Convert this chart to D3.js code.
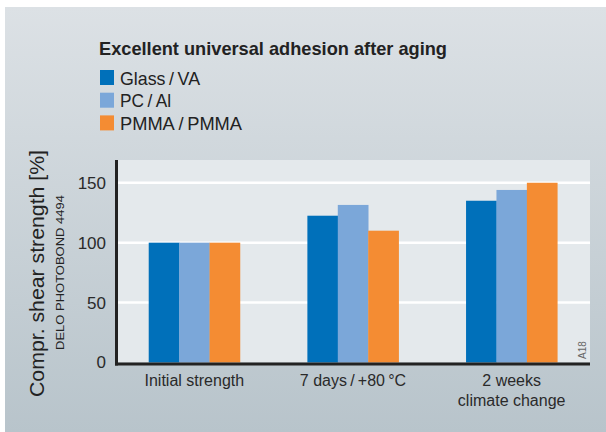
<!DOCTYPE html>
<html><head><meta charset="utf-8">
<script src="https://cdn.jsdelivr.net/npm/d3@7"></script>
<style>body{margin:0;background:#fff}svg{display:block}text{font-family:"Liberation Sans",Arial,sans-serif}</style>
</head><body>
<script>
const categories = ["Initial strength", "7 days\u2009/\u2009+80\u2009°C", "2 weeks\nclimate change"];
const seriesNames = ["Glass\u2009/\u2009VA", "PC\u2009/\u2009Al", "PMMA\u2009/\u2009PMMA"];
const seriesColors = ["#0070ba", "#7ba7d9", "#f48c33"];
const glassVA = [100, 122.5, 135];
const pcAl = [100, 131.5, 144];
const pmma = [100, 110, 150];
const yTicks = [0, 50, 100, 150];
const values = [glassVA, pcAl, pmma];
const legendWidths = [80, 51, 122];

const W = 606, H = 432;
const svg = d3.select("body").append("svg").attr("width", W).attr("height", H);
const defs = svg.append("defs");
const g = defs.append("linearGradient").attr("id","bg").attr("x1",0).attr("y1",0).attr("x2",0).attr("y2",1);
g.append("stop").attr("offset","0%").attr("stop-color","#dce1e5");
g.append("stop").attr("offset","100%").attr("stop-color","#b8c4cb");
svg.append("rect").attr("x",5).attr("y",7).attr("width",W-5).attr("height",H-7).attr("fill","url(#bg)");

const pLeft = 118, pRight = 589, pTop = 160, base = 362.5;
const x = d3.scaleBand().domain(categories).range([pLeft-3, pRight+2]).paddingInner(0.425).paddingOuter(0.2125);
const y = d3.scaleLinear().domain([0, 169]).range([base, pTop]);
const xs = d3.scaleBand().domain(seriesNames).range([0, x.bandwidth()]);

svg.append("rect").attr("x",pLeft).attr("y",pTop).attr("width",pRight-pLeft+1).attr("height",base-pTop).attr("fill","#e4e9ec");

// gridlines
svg.append("g").selectAll("line").data(yTicks.filter(d=>d>0)).join("line")
  .attr("x1",pLeft).attr("x2",pRight+1).attr("y1",d=>y(d)).attr("y2",d=>y(d))
  .attr("stroke","#fff").attr("stroke-width",2.5);

// bars
const rows = [];
categories.forEach((c,i)=>seriesNames.forEach((s,j)=>rows.push({c,s,v:values[j][i],col:seriesColors[j]})));
svg.append("g").selectAll("rect").data(rows).join("rect")
  .attr("x",d=>x(d.c)+xs(d.s)).attr("width",xs.bandwidth()+0.3)
  .attr("y",d=>y(d.v)).attr("height",d=>base-y(d.v)).attr("fill",d=>d.col);

// y axis
const yAxis = svg.append("g").attr("transform",`translate(${pLeft-2},0)`)
  .call(d3.axisLeft(y).tickValues(yTicks).tickSize(0).tickPadding(10));
yAxis.select(".domain").remove();
yAxis.selectAll("text").attr("font-size",17).attr("fill","#2a2a2a").attr("font-family","Liberation Sans, Arial, sans-serif");

// axis lines
svg.append("line").attr("x1",pLeft-1.5).attr("x2",pLeft-1.5).attr("y1",pTop).attr("y2",base+3).attr("stroke","#222").attr("stroke-width",3);
svg.append("line").attr("x1",pLeft-3).attr("x2",pRight+1).attr("y1",base+1.5).attr("y2",base+1.5).attr("stroke","#222").attr("stroke-width",3);

// x labels
const xl = svg.append("g").selectAll("text").data(categories).join("text")
  .attr("x",d=>x(d)+x.bandwidth()/2).attr("y",386).attr("text-anchor","middle")
  .attr("font-size",16).attr("fill","#2a2a2a");
xl.each(function(d){
  const lines = d.split("\n");
  const t = d3.select(this);
  lines.forEach((l,i)=>t.append("tspan").attr("x",x(d)+x.bandwidth()/2).attr("dy",i?20:0).text(l));
});

// title
svg.append("text").attr("x",99).attr("y",55).attr("font-size",19).attr("font-weight","bold").attr("fill","#222")
  .attr("textLength",348).attr("lengthAdjust","spacingAndGlyphs").text("Excellent universal adhesion after aging");

// legend
const leg = svg.append("g").selectAll("g").data(seriesNames).join("g")
  .attr("transform",(d,i)=>`translate(100,${70+i*22.7})`);
leg.append("rect").attr("width",14).attr("height",15).attr("fill",(d,i)=>seriesColors[i]);
leg.append("text").attr("x",20).attr("y",14.5).attr("font-size",19).attr("fill","#222")
  .attr("textLength",(d,i)=>legendWidths[i]).attr("lengthAdjust","spacingAndGlyphs").text(d=>d);

// y title
svg.append("text").attr("transform","translate(44,273.5) rotate(-90)").attr("text-anchor","middle")
  .attr("font-size",20).attr("fill","#222").attr("textLength",247).attr("lengthAdjust","spacingAndGlyphs")
  .text("Compr. shear strength [%]");
svg.append("text").attr("transform","translate(64,272.5) rotate(-90)").attr("text-anchor","middle")
  .attr("font-size",11).attr("fill","#222").attr("textLength",155).attr("lengthAdjust","spacingAndGlyphs")
  .text("DELO PHOTOBOND 4494");
svg.append("text").attr("transform","translate(586,350) rotate(-90)").attr("text-anchor","middle")
  .attr("font-size",10).attr("fill","#666").text("A18");
</script>
</body></html>
